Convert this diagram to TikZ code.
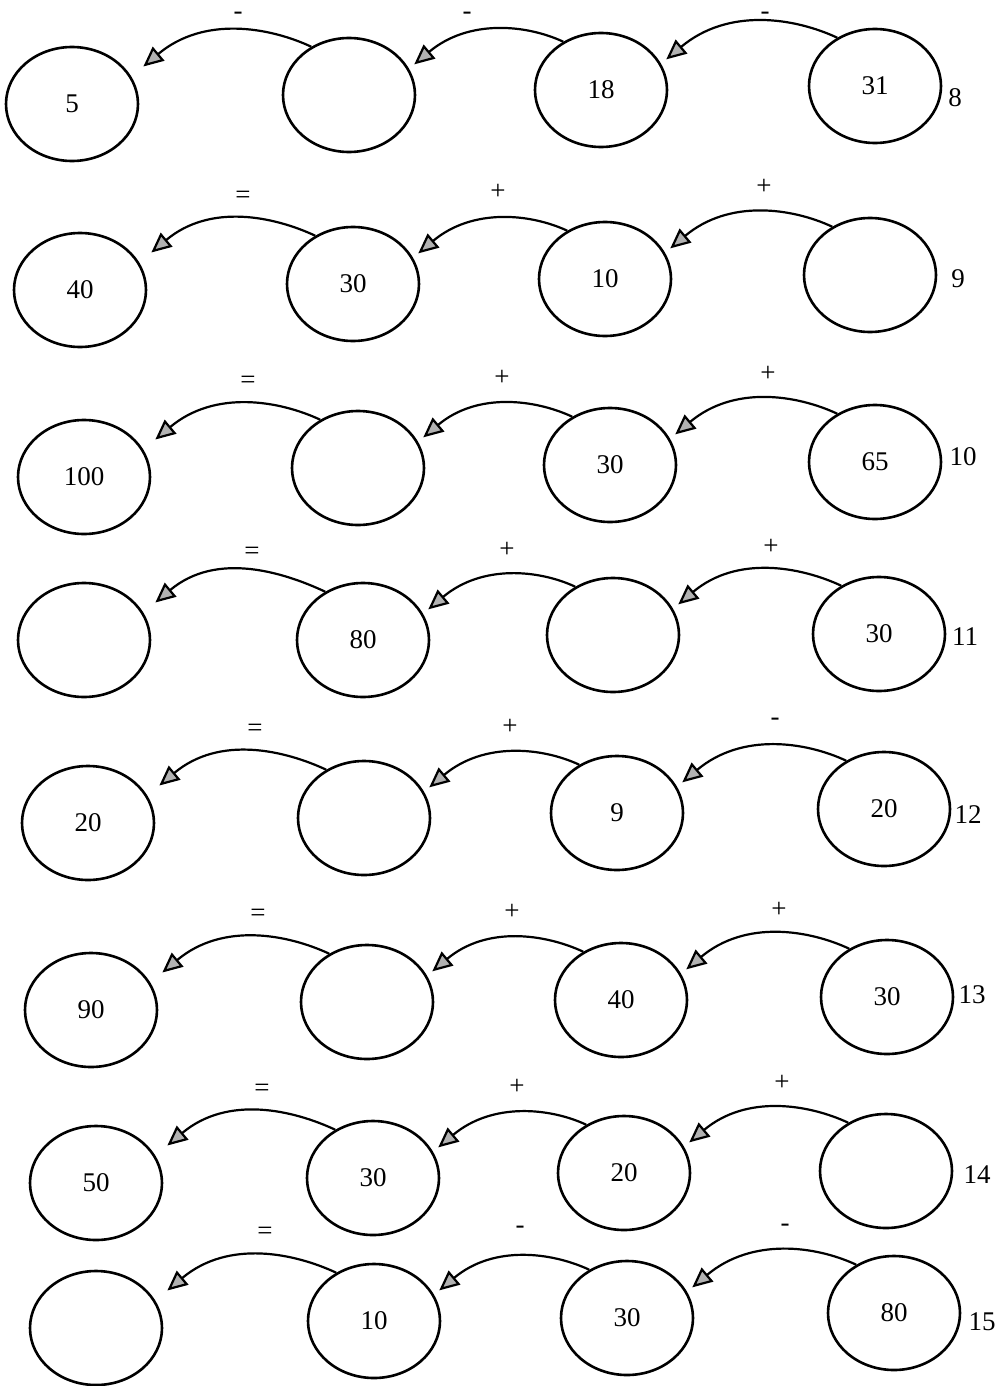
\documentclass[tikz,border=0pt]{standalone}
\usepackage{fontspec}
\setmainfont{Liberation Serif}
\usetikzlibrary{shapes.geometric, arrows.meta, calc}
\tikzset {
  bubble style/.style = {
    ellipse,
    draw=black,
    line width=1.3pt,
    minimum width=66pt,
    minimum height=57pt,
    inner sep=0pt
  },
  hop style/.style = {
    -{Triangle[length=10pt, width=9pt, fill=gray!60]},
    line width=1.1pt
  },
  hop bend/.style = {out=155, in=40, out looseness=0.7, in looseness=1.2}
}

\begin{document}
\begin{tikzpicture}[x=0.5pt, y=-0.5pt, font=\fontsize{13.5}{16}\selectfont]

\useasboundingbox (0,0) rectangle (1003,1386);

% --- Row 8 ---
\node[bubble style] (e8a) at ( 72, 104) {5};
\node[bubble style] (e8b) at (349,  95) {};
\node[bubble style] (e8c) at (601,  90) {18};
\node[bubble style] (e8d) at (875,  86) {31};
\node (n8)  at (955,  98) {8};
\node[inner sep=0pt] (s8a) at (238, 16) {-};
\node[inner sep=0pt] (s8b) at (467, 16) {-};
\node[inner sep=0pt] (s8c) at (765, 16) {-};

% --- Row 9 ---
\node[bubble style] (e9a) at ( 80, 290) {40};
\node[bubble style] (e9b) at (353, 284) {30};
\node[bubble style] (e9c) at (605, 279) {10};
\node[bubble style] (e9d) at (870, 275) {};
\node (n9)  at (958, 279) {9};
\node (s9a) at (243, 197) {=};
\node (s9b) at (498, 192) {+};
\node (s9c) at (764, 187) {+};

% --- Row 10 ---
\node[bubble style] (e10a) at ( 84, 477) {100};
\node[bubble style] (e10b) at (358, 468) {};
\node[bubble style] (e10c) at (610, 465) {30};
\node[bubble style] (e10d) at (875, 462) {65};
\node (n10)  at (963, 457) {10};
\node (s10a) at (248, 382) {=};
\node (s10b) at (502, 378) {+};
\node (s10c) at (768, 374) {+};

% --- Row 11 ---
\node[bubble style] (e11a) at ( 84, 640) {};
\node[bubble style] (e11b) at (363, 640) {80};
\node[bubble style] (e11c) at (613, 635) {};
\node[bubble style] (e11d) at (879, 634) {30};
\node (n11)  at (965, 637) {11};
\node (s11a) at (252, 553) {=};
\node (s11b) at (507, 550) {+};
\node (s11c) at (771, 547) {+};

% --- Row 12 ---
\node[bubble style] (e12a) at ( 88, 823) {20};
\node[bubble style] (e12b) at (364, 818) {};
\node[bubble style] (e12c) at (617, 813) {9};
\node[bubble style] (e12d) at (884, 809) {20};
\node (n12)  at (968, 815) {12};
\node (s12a) at (255, 730) {=};
\node (s12b) at (510, 727) {+};
\node (s12c) at (775, 722) {-};

% --- Row 13 ---
\node[bubble style] (e13a) at ( 91,1010) {90};
\node[bubble style] (e13b) at (367,1002) {};
\node[bubble style] (e13c) at (621,1000) {40};
\node[bubble style] (e13d) at (887, 997) {30};
\node (n13)  at (972, 995) {13};
\node (s13a) at (258, 915) {=};
\node (s13b) at (512, 912) {+};
\node (s13c) at (779, 910) {+};

% --- Row 14 ---
\node[bubble style] (e14a) at ( 96,1183) {50};
\node[bubble style] (e14b) at (373,1178) {30};
\node[bubble style] (e14c) at (624,1173) {20};
\node[bubble style] (e14d) at (886,1171) {};
\node (n14)  at (977,1175) {14};
\node (s14a) at (262,1090) {=};
\node (s14b) at (517,1087) {+};
\node (s14c) at (782,1083) {+};

% --- Row 15 ---
\node[bubble style] (e15a) at ( 96,1328) {};
\node[bubble style] (e15b) at (374,1321) {10};
\node[bubble style] (e15c) at (627,1318) {30};
\node[bubble style] (e15d) at (894,1313) {80};
\node (n15)  at (982,1322) {15};
\node (s15a) at (265,1233) {=};
\node (s15b) at (520,1230) {-};
\node (s15c) at (785,1228) {-};

% --- Arrows (tip stops a little off the next bubble) ---
\draw[hop style] (e8b.128) to[hop bend] ($(e8a.28)+(14,-7)$);
\draw[hop style] (e8c.128) to[hop bend] ($(e8b.25)+(6,-3)$);
\draw[hop style] (e8d.128) to[hop bend] ($(e8c.25)+(6,-3)$);

\draw[hop style] (e9b.128) to[hop bend] ($(e9a.28)+(14,-7)$);
\draw[hop style] (e9c.128) to[hop bend] ($(e9b.25)+(6,-3)$);
\draw[hop style] (e9d.128) to[hop bend] ($(e9c.25)+(6,-3)$);

\draw[hop style] (e10b.128) to[hop bend] ($(e10a.28)+(14,-7)$);
\draw[hop style] (e10c.128) to[hop bend] ($(e10b.25)+(6,-3)$);
\draw[hop style] (e10d.128) to[hop bend] ($(e10c.25)+(6,-3)$);

\draw[hop style] (e11b.128) to[hop bend] ($(e11a.28)+(14,-7)$);
\draw[hop style] (e11c.128) to[hop bend] ($(e11b.25)+(6,-3)$);
\draw[hop style] (e11d.128) to[hop bend] ($(e11c.25)+(6,-3)$);

\draw[hop style] (e12b.128) to[hop bend] ($(e12a.28)+(14,-7)$);
\draw[hop style] (e12c.128) to[hop bend] ($(e12b.25)+(6,-3)$);
\draw[hop style] (e12d.128) to[hop bend] ($(e12c.25)+(6,-3)$);

\draw[hop style] (e13b.128) to[hop bend] ($(e13a.28)+(14,-7)$);
\draw[hop style] (e13c.128) to[hop bend] ($(e13b.25)+(6,-3)$);
\draw[hop style] (e13d.128) to[hop bend] ($(e13c.25)+(6,-3)$);

\draw[hop style] (e14b.128) to[hop bend] ($(e14a.28)+(14,-7)$);
\draw[hop style] (e14c.128) to[hop bend] ($(e14b.25)+(6,-3)$);
\draw[hop style] (e14d.128) to[hop bend] ($(e14c.25)+(6,-3)$);

\draw[hop style] (e15b.128) to[hop bend] ($(e15a.28)+(14,-7)$);
\draw[hop style] (e15c.128) to[hop bend] ($(e15b.25)+(6,-3)$);
\draw[hop style] (e15d.128) to[hop bend] ($(e15c.25)+(6,-3)$);

\end{tikzpicture}
\end{document}
